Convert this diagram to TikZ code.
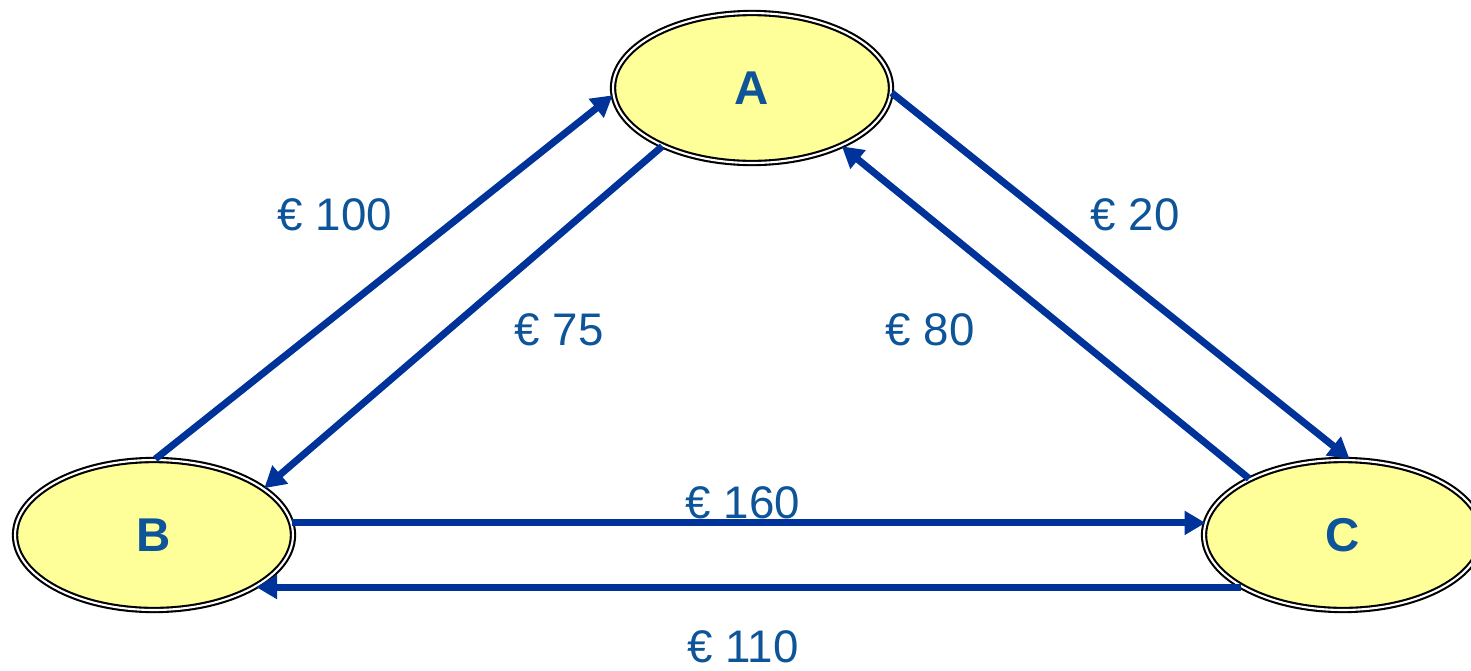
\documentclass[tikz,border=0pt]{standalone}
\usepackage{fontspec}
\setmainfont{Liberation Sans}
\usetikzlibrary{shapes.geometric,arrows.meta}
\definecolor{fillyellow}{RGB}{255,255,153}
\definecolor{arrowblue}{RGB}{0,51,153}
\definecolor{textblue}{RGB}{14,84,152}
\begin{document}
\begin{tikzpicture}[x=0.02cm,y=-0.02cm,
  state/.style={ellipse, minimum width=5.56cm, minimum height=3.0cm, inner sep=0pt,
    fill=fillyellow, draw=black, line width=1.2pt, double=white, double distance=1.2pt,
    text=textblue, font=\fontsize{27}{30}\selectfont\bfseries},
  flow/.style={draw=arrowblue, line width=4pt, -{Triangle[length=0.42cm,width=0.46cm]}},
  amount/.style={text=textblue, font=\fontsize{26}{30}\selectfont, inner sep=0pt}]
\useasboundingbox (0,0) rectangle (1471,670);
\node[state] (A) at (752,88) {A};
\node[state] (B) at (154,535) {B};
\node[state] (C) at (1343,535) {C};
\draw[flow] (B.89) -- (A.183);
\draw[flow] (A.213) -- (B.23);
\draw[flow] (A.358) -- (C.85);
\draw[flow] (C.149) -- (A.327);
\draw[flow] (B.5.2) -- (C.174.8 |- B.5.2);
\draw[flow] (C.207) -- (B.333 |- C.207);
\node[amount] (l100) at (335,215) {€ 100};
\node[amount] (l75) at (559,330) {€ 75};
\node[amount] (l20) at (1135,215) {€ 20};
\node[amount] (l80) at (930,330) {€ 80};
\node[amount] (l160) at (743,503) {€ 160};
\node[amount] (l110) at (743,647) {€ 110};
\end{tikzpicture}
\end{document}
